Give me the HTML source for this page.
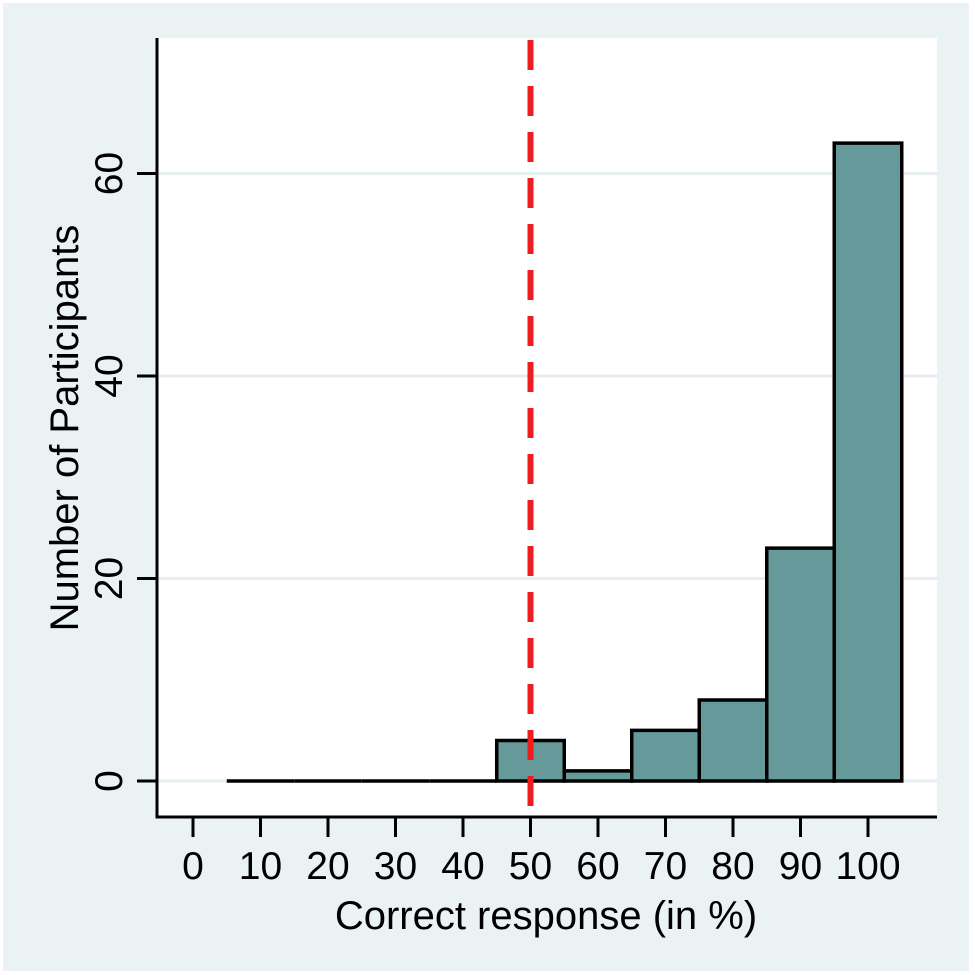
<!DOCTYPE html>
<html><head><meta charset="utf-8"><style>
html,body{margin:0;padding:0;background:#fff;}
svg{display:block;font-family:"Liberation Sans",Arial,sans-serif;}
</style></head><body>
<svg id="chart" width="975" height="975" viewBox="0 0 975 975">
<rect x="3" y="3" width="966" height="968" fill="#eaf2f3"/>
<rect x="157" y="38" width="780" height="779" fill="#ffffff"/>
<g id="grid"></g>
<g id="bars"></g>
<g id="axes"></g>
<text x="546" y="929" font-size="40" text-anchor="middle" fill="#000">Correct response (in %)</text>
<text transform="translate(78,428) rotate(-90)" font-size="40" text-anchor="middle" fill="#000">Number of Participants</text>
</svg>
<script>
const binCenters = [10, 20, 30, 40, 50, 60, 70, 80, 90, 100];
const counts = [0, 0, 0, 0, 4, 1, 5, 8, 23, 63];
const xTicks = [0, 10, 20, 30, 40, 50, 60, 70, 80, 90, 100];
const yTicks = [0, 20, 40, 60];
const refLine = [50];
const binWidth = 10;

const NS = "http://www.w3.org/2000/svg";
const xs = v => 193 + v * 6.75;
const ys = v => 781 - v * 10.125;
function mk(tag, attrs, parent) {
  const e = document.createElementNS(NS, tag);
  for (const k in attrs) e.setAttribute(k, attrs[k]);
  parent.appendChild(e);
  return e;
}
const grid = document.getElementById('grid');
const bars = document.getElementById('bars');
const axes = document.getElementById('axes');

yTicks.forEach(t => {
  const g = mk('line', {x1: 157, x2: 937, y1: ys(t), y2: ys(t), stroke: '#e6eeef', 'stroke-width': 3}, grid);
  
  
});

binCenters.forEach((c, i) => {
  const x0 = xs(c - binWidth / 2), x1 = xs(c + binWidth / 2);
  const y = ys(counts[i]), y0 = ys(0);
  const d = `M${x0},${y0} L${x0},${y} L${x1},${y} L${x1},${y0} Z`;
  const r = mk('path', {d: d, fill: '#669999', stroke: '#000', 'stroke-width': 3.5, 'stroke-linejoin': 'miter'}, bars);
  
  
});

refLine.forEach(v => {
  const l = mk('line', {x1: xs(v), x2: xs(v), y1: 40, y2: 817, stroke: '#ee1c1c', 'stroke-width': 6, 'stroke-dasharray': '30 16'}, bars);
  
  
});

const ya = mk('line', {x1: 157, x2: 157, y1: 38, y2: 818.5, stroke: '#000', 'stroke-width': 3}, axes);


const xa = mk('line', {x1: 155.5, x2: 937, y1: 817, y2: 817, stroke: '#000', 'stroke-width': 3}, axes);



yTicks.forEach(t => {
  const tk = mk('line', {x1: 137, x2: 157, y1: ys(t), y2: ys(t), stroke: '#000', 'stroke-width': 3}, axes);
  
  
  const tx = mk('text', {transform: `translate(122,${ys(t)}) rotate(-90)`, 'font-size': 39, 'text-anchor': 'middle', fill: '#000'}, axes);
  tx.textContent = t;
  
  
});

xTicks.forEach(t => {
  const tk = mk('line', {x1: xs(t), x2: xs(t), y1: 817, y2: 837, stroke: '#000', 'stroke-width': 3}, axes);
  
  
  const tx = mk('text', {x: xs(t), y: 879, 'font-size': 39, 'text-anchor': 'middle', fill: '#000'}, axes);
  tx.textContent = t;
  
  
});
</script>
</body></html>
